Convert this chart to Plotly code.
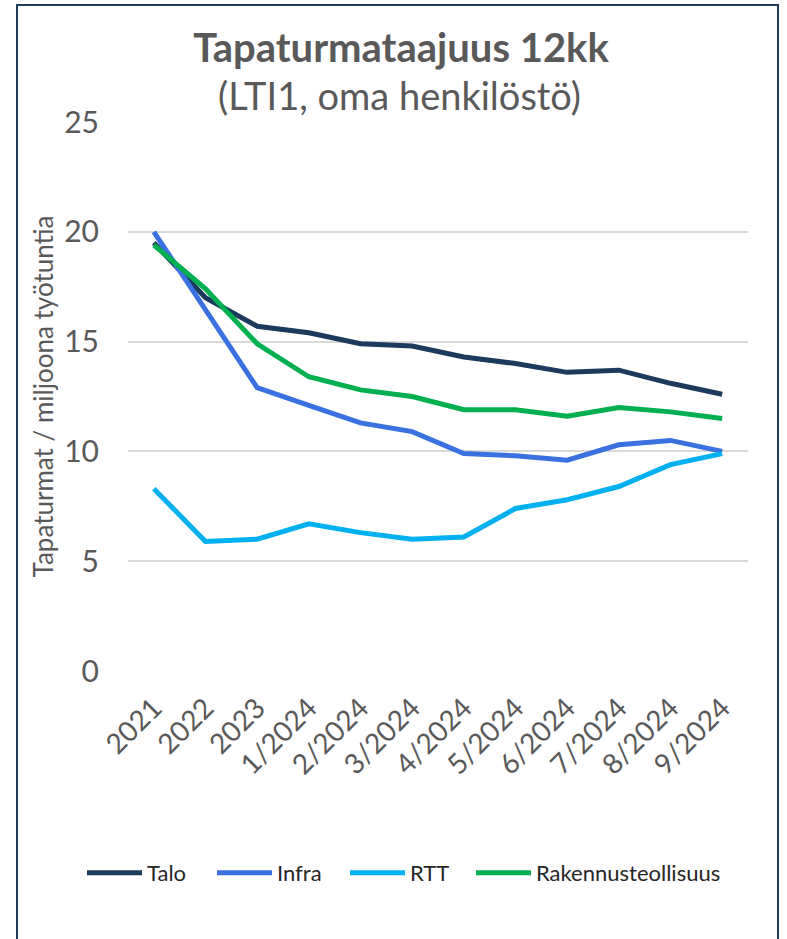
import plotly.graph_objects as go

categories = ["2021", "2022", "2023", "1/2024", "2/2024", "3/2024", "4/2024",
              "5/2024", "6/2024", "7/2024", "8/2024", "9/2024"]

talo = [19.5, 17.0, 15.7, 15.4, 14.9, 14.8, 14.3, 14.0, 13.6, 13.7, 13.1, 12.6]
infra = [20.0, 16.5, 12.9, 12.1, 11.3, 10.9, 9.9, 9.8, 9.6, 10.3, 10.5, 10.0]
rtt = [8.3, 5.9, 6.0, 6.7, 6.3, 6.0, 6.1, 7.4, 7.8, 8.4, 9.4, 9.9]
rakennusteollisuus = [19.4, 17.4, 14.9, 13.4, 12.8, 12.5, 11.9, 11.9, 11.6, 12.0, 11.8, 11.5]

series = [
    ("Talo", talo, "#1b3a5c"),
    ("Infra", infra, "#3a70e0"),
    ("RTT", rtt, "#00b0f0"),
    ("Rakennusteollisuus", rakennusteollisuus, "#00b050"),
]

FONT = "Lato"
GREY = "#595959"
W, H = 787, 939

# plot area in pixels: x 128..748, y 122..671
def px_x(px):
    return (px - 128) / 620

def px_y(py):
    return (671 - py) / 549

fig = go.Figure()

# one legend per series so the entries can be spaced like the original
legend_ids = ["legend2", "legend3", "legend4", "legend5"]
legend_x = [82, 212, 345, 471]

for (name, values, color), lid in zip(series, legend_ids):
    fig.add_trace(go.Scatter(
        x=categories,
        y=values,
        mode="lines",
        name=name,
        line=dict(color=color, width=5),
        legend=lid,
    ))

legend_style = dict(
    orientation="h",
    xanchor="left",
    yanchor="middle",
    y=px_y(873),
    font=dict(family=FONT, size=22, color="#262626"),
    itemwidth=55,
    bgcolor="rgba(0,0,0,0)",
)
legends = {lid: dict(legend_style, x=px_x(lx)) for lid, lx in zip(legend_ids, legend_x)}

fig.update_layout(
    width=W,
    height=H,
    paper_bgcolor="white",
    plot_bgcolor="white",
    margin=dict(l=128, r=39, t=122, b=268),
    font=dict(family=FONT, color=GREY),
    showlegend=True,
    title=dict(
        text="<b>Tapaturmataajuus 12kk</b>",
        font=dict(family=FONT, size=40, color=GREY),
        x=401 / W, xref="container", xanchor="center",
        y=1 - 48 / H, yref="container", yanchor="middle",
    ),
    annotations=[dict(
        text="(LTI1, oma henkilöstö)",
        xref="paper", yref="paper",
        x=px_x(399), y=px_y(95),
        xanchor="center", yanchor="middle",
        showarrow=False,
        font=dict(family=FONT, size=38, color=GREY),
    )],
    xaxis=dict(
        type="category",
        range=[-0.5, len(categories) - 0.5],
        tickangle=-45,
        tickfont=dict(family=FONT, size=28, color=GREY),
        showgrid=False,
        showline=False,
        ticks="",
        ticklabelstandoff=14,
    ),
    yaxis=dict(
        range=[0, 25],
        dtick=5,
        tickfont=dict(family=FONT, size=30, color=GREY),
        showgrid=True,
        gridcolor="#d9d9d9",
        gridwidth=2,
        zeroline=False,
        showline=False,
        ticks="",
        ticklabelstandoff=28,
        title=dict(
            text="Tapaturmat / miljoona työtuntia",
            font=dict(family=FONT, size=26, color=GREY),
            standoff=3,
        ),
    ),
    shapes=[dict(
        type="rect",
        xref="paper", yref="paper",
        x0=px_x(17), x1=px_x(778),
        y0=px_y(960), y1=px_y(5),
        line=dict(color="#1f3b5c", width=2),
        fillcolor="rgba(0,0,0,0)",
        layer="below",
    )],
    **legends,
)

# drop the default body margin so the figure fills the window from (0, 0)
fig.write_html(
    "out.html",
    config={"displayModeBar": False},
    post_script="document.body.style.margin = '0';",
)
